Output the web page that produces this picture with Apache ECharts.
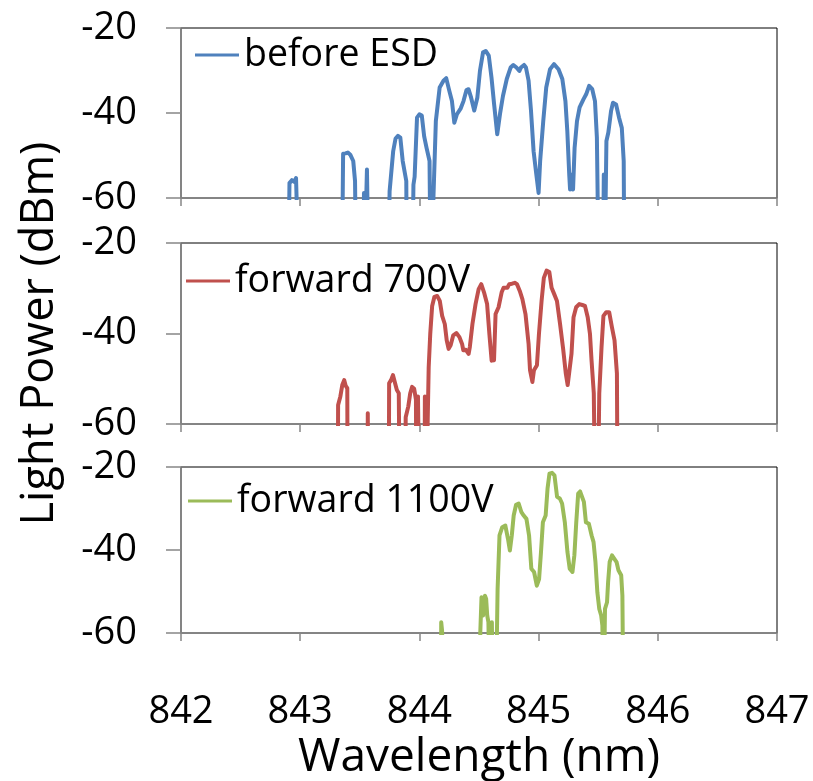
<!DOCTYPE html>
<html>
<head>
<meta charset="utf-8">
<script src="https://cdn.jsdelivr.net/npm/echarts@6/dist/echarts.min.js"></script>
<style>
  html, body { margin: 0; padding: 0; background: #fff; }
  #chart { width: 813px; height: 781px; }
</style>
</head>
<body>
<div id="chart"></div>
<script>
// Optical spectra (wavelength in nm, power in dBm); -80 marks the noise floor below the plotted range.
const xTicks = [842, 843, 844, 845, 846, 847];
const yTicks = [-60, -40, -20];
const seriesNames = ['before ESD', 'forward 700V', 'forward 1100V'];

const wlBefore = [842.0, 842.90, 842.91, 842.93, 842.95, 842.965, 842.98, 842.99,
  843.35, 843.36, 843.38, 843.40, 843.42, 843.445, 843.46, 843.47,
  843.53, 843.535, 843.555, 843.56, 843.57, 843.575,
  843.74, 843.75, 843.78, 843.80, 843.82, 843.84, 843.86, 843.89, 843.895,
  843.94, 843.95, 843.96, 843.98, 844.00, 844.02, 844.04, 844.06, 844.085, 844.095,
  844.105, 844.138, 844.17, 844.202, 844.225, 844.251, 844.273, 844.293, 844.315, 844.347,
  844.37, 844.395, 844.412, 844.434, 844.46, 844.486, 844.508, 844.534, 844.556, 844.582,
  844.605, 844.627, 844.653, 844.678, 844.701, 844.733, 844.765, 844.788, 844.814, 844.839,
  844.852, 844.878, 844.894, 844.916, 844.936, 844.958, 844.981, 845.0, 845.013, 845.039,
  845.064, 845.096, 845.129, 845.167, 845.199, 845.225, 845.241, 845.257, 845.264, 845.28,
  845.289, 845.302, 845.322, 845.344, 845.376, 845.399, 845.424, 845.45, 845.473, 845.489,
  845.505, 845.54, 845.547, 845.553, 845.562, 845.569, 845.585, 845.608, 845.624, 845.65,
  845.675, 845.698, 845.714, 845.72, 847.0];
const dbBefore = [-80, -80, -56.5, -55.8, -56.2, -55.3, -55.6, -80,
  -80, -49.6, -49.5, -49.3, -49.8, -51.3, -56, -80,
  -80, -58.8, -58.8, -53.3, -53.5, -80,
  -80, -58.4, -49, -46, -45.4, -45.8, -51.3, -56, -80,
  -80, -56.9, -55, -41.1, -40.3, -40.6, -45.5, -48.2, -51.3, -80,
  -80, -41.9, -34, -32.4, -31.8, -34.8, -37.2, -42.3, -40.3, -38.9,
  -37.2, -34.6, -34.4, -36.4, -39.4, -36.4, -30.1, -25.7, -25.4, -26.5,
  -31.7, -38, -45, -39.9, -36, -32, -29.3, -28.7, -29.3, -30.1,
  -29.3, -28.7, -29.3, -32.4, -39.4, -49, -54.5, -58.8, -51.3, -41.9,
  -34, -29.7, -28.5, -29.7, -32, -37.2, -44.3, -54.5, -58, -54.5,
  -58, -48.2, -41.9, -38.7, -36.8, -35.6, -33.6, -34.4, -37.2, -45.8,
  -80, -80, -54.5, -80, -80, -46.6, -44.6, -39.5, -37.6, -38,
  -41.1, -43.5, -51.3, -80, -80];

const wl700 = [842.0, 843.315, 843.318, 843.337, 843.353, 843.369, 843.382, 843.395, 843.398,
  843.565, 843.567, 843.571,
  843.743, 843.746, 843.762, 843.778, 843.794, 843.811, 843.827, 843.836,
  843.882, 843.885, 843.907, 843.923, 843.939, 843.956, 843.971, 843.975,
  843.985, 843.988, 843.995, 844.0,
  844.043, 844.046, 844.05, 844.055,
  844.065, 844.078, 844.091, 844.107, 844.126, 844.149, 844.171, 844.191, 844.213, 844.229,
  844.245, 844.262, 844.284, 844.31, 844.336, 844.358, 844.368, 844.39, 844.413, 844.423,
  844.445, 844.471, 844.497, 844.519, 844.542, 844.568, 844.587, 844.606, 844.626, 844.639,
  844.664, 844.69, 844.706, 844.722, 844.738, 844.754, 844.777, 844.8, 844.819, 844.842,
  844.864, 844.89, 844.916, 844.928, 844.948, 844.961, 844.986, 845.003, 845.025, 845.044,
  845.067, 845.09, 845.109, 845.131, 845.154, 845.18, 845.206, 845.228, 845.244, 845.26,
  845.276, 845.293, 845.315, 845.341, 845.367, 845.389, 845.412, 845.431, 845.444, 845.463,
  845.476, 845.496, 845.509, 845.528, 845.544, 845.567, 845.592, 845.615, 845.637, 845.657,
  845.663, 847.0];
const db700 = [-80, -80, -55.8, -53.9, -51.4, -50.3, -51.6, -52.1, -80,
  -80, -57.6, -80,
  -80, -51, -50.3, -49.2, -49.6, -52.5, -53.2, -80,
  -80, -58.5, -56.1, -53.2, -51.8, -52.2, -54.6, -80,
  -80, -53.9, -54, -80,
  -80, -53.9, -54, -80,
  -80, -47.4, -40.1, -33.9, -31.9, -31.7, -32.8, -36.1, -37.9, -41.5,
  -43.4, -42.6, -40.4, -39.9, -40.8, -42.3, -43.7, -43.6, -44.5, -43,
  -37.9, -33.5, -30.2, -29.1, -30.9, -33.5, -40.1, -46, -45.9, -35.7,
  -34.2, -30.9, -29.9, -29.5, -29.9, -29.1, -29, -28.8, -29.1, -30.6,
  -32.4, -35.7, -42.3, -48.1, -50.7, -48.1, -47, -40.1, -32.8, -27.7,
  -26.1, -26.4, -29.9, -31.3, -32.8, -37.9, -43.4, -48.8, -51.4, -51,
  -44.5, -36.4, -34.2, -33.5, -33.7, -33.9, -36.4, -40.1, -45.9, -53.2,
  -80, -80, -53.2, -43, -36.1, -35.3, -35.3, -38.6, -41.5, -48.8,
  -80, -80];

const wl1100 = [842.0, 844.18, 844.183, 844.19, 844.205, 844.21,
  844.508, 844.511, 844.521, 844.534, 844.55, 844.56, 844.569, 844.579, 844.592,
  844.605, 844.608, 844.617,
  844.64, 844.656, 844.672, 844.695, 844.721, 844.743, 844.759, 844.775, 844.791, 844.811,
  844.833, 844.856, 844.875, 844.898, 844.92, 844.939, 844.962, 844.985, 845.004, 845.02,
  845.036, 845.059, 845.075, 845.091, 845.113, 845.133, 845.155, 845.178, 845.197, 845.22,
  845.242, 845.261, 845.284, 845.3, 845.316, 845.332, 845.348, 845.364, 845.38, 845.397,
  845.422, 845.445, 845.461, 845.477, 845.493, 845.509, 845.525, 845.535, 845.545,
  845.555, 845.557, 845.574, 845.583, 845.596, 845.616, 845.632, 845.654, 845.67, 845.693,
  845.703, 845.712, 847.0];
const db1100 = [-80, -80, -57.4, -59.4, -59.8, -80,
  -80, -59.8, -51.4, -55.8, -51, -51.8, -55.8, -57.4, -80,
  -80, -57.4, -80,
  -80, -49.4, -36.5, -34.5, -34.1, -37.3, -40.1, -36.5, -31.7, -29.1,
  -28.8, -30.9, -31.7, -32.5, -36.5, -44.5, -45.3, -48.6, -47, -40.5,
  -33.3, -31.7, -25.2, -21.6, -21.4, -22, -27.2, -27.6, -28.8, -33.3,
  -40.5, -44.5, -45.3, -41.3, -33.3, -26.4, -25.9, -26, -28.4, -33.3,
  -33.7, -36.5, -38.1, -42.9, -50.2, -54.2, -55.8, -58.2, -80,
  -80, -54.2, -52.6, -47.8, -42.9, -41.3, -40.9, -42.9, -44.9, -46.1,
  -51, -80, -80];

const FONT = '"Open Sans", "DejaVu Sans", sans-serif';
const colors = ['#4F81BD', '#C0504D', '#9BBB59'];
const wls = [wlBefore, wl700, wl1100];
const dbs = [dbBefore, db700, db1100];

// Panel placement (pixels)
const panels = [
  { top: 28, height: 170, legendTop: 36, legendLeft: 195 },
  { top: 243, height: 181, legendTop: 262, legendLeft: 186 },
  { top: 467, height: 166, legendTop: 482, legendLeft: 188 }
];
const LEFT = 181, RIGHT = 36;

const grids = panels.map(p => ({
  left: LEFT, right: RIGHT, top: p.top, height: p.height,
  outerBoundsMode: 'none', containLabel: false,
  show: true, borderColor: '#000', borderWidth: 1, backgroundColor: 'transparent'
}));

const xAxes = panels.map((p, i) => ({
  type: 'value', gridIndex: i,
  min: xTicks[0], max: xTicks[xTicks.length - 1], interval: 1,
  axisLine: { show: true, lineStyle: { color: '#868686', width: 1.5 } },
  axisTick: { show: true, inside: false, length: 8, lineStyle: { color: '#868686', width: 1.5 } },
  splitLine: { show: false },
  axisLabel: {
    show: i === 2, margin: 60, fontFamily: FONT, fontSize: 38, color: '#000',
    formatter: v => xTicks.includes(v) ? String(v) : ''
  },
  name: i === 2 ? 'Wavelength (nm)' : '',
  nameLocation: 'middle', nameGap: 102,
  nameTextStyle: { fontFamily: FONT, fontSize: 46, color: '#000' }
}));

const yAxes = panels.map((p, i) => ({
  type: 'value', gridIndex: i,
  min: yTicks[0], max: yTicks[yTicks.length - 1], interval: 20,
  axisLine: { show: true, lineStyle: { color: '#868686', width: 1.5 } },
  axisTick: { show: true, inside: false, length: 15, lineStyle: { color: '#868686', width: 1.5 } },
  splitLine: { show: false },
  axisLabel: {
    margin: 44, fontFamily: FONT, fontSize: 38, color: '#000',
    formatter: v => yTicks.includes(v) ? String(v) : ''
  },
  name: i === 1 ? 'Light Power (dBm)' : '',
  nameLocation: 'middle', nameGap: 118, nameRotate: 90,
  nameTextStyle: { fontFamily: FONT, fontSize: 45, color: '#000' }
}));

const series = seriesNames.map((name, i) => ({
  name, type: 'line', xAxisIndex: i, yAxisIndex: i,
  data: wls[i].map((w, k) => [w, dbs[i][k]]),
  showSymbol: false, symbol: 'none', clip: true, smooth: false,
  lineStyle: { color: colors[i], width: 4, join: 'round' },
  itemStyle: { color: colors[i] },
  animation: false
}));

const legends = panels.map((p, i) => ({
  data: [seriesNames[i]],
  left: p.legendLeft, top: p.legendTop, padding: 0,
  orient: 'horizontal', icon: 'rect',
  itemWidth: 44, itemHeight: 3, itemGap: 0,
  textStyle: { fontFamily: FONT, fontSize: 37.5, color: '#000' },
  selectedMode: false
}));

const chart = echarts.init(document.getElementById('chart'), null, { renderer: 'canvas' });
chart.setOption({
  backgroundColor: '#fff',
  animation: false,
  grid: grids,
  xAxis: xAxes,
  yAxis: yAxes,
  legend: legends,
  series
});
</script>
</body>
</html>
